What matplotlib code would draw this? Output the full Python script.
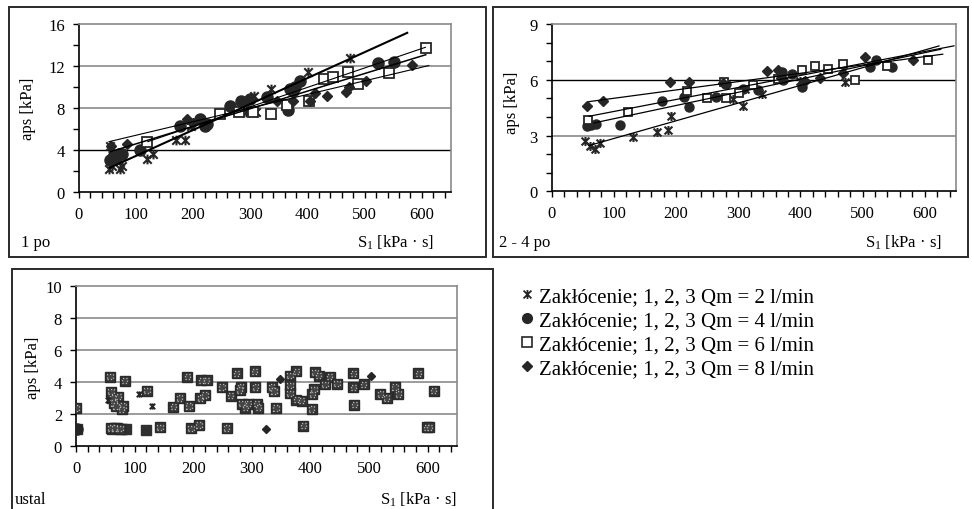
import matplotlib
matplotlib.use("Agg")
import matplotlib.pyplot as plt
import numpy as np
from matplotlib.path import Path
from matplotlib.patches import Rectangle
from matplotlib.lines import Line2D

plt.rcParams['font.family'] = ['Liberation Serif', 'DejaVu Serif']
plt.rcParams['mathtext.fontset'] = 'custom'
plt.rcParams['mathtext.rm'] = 'Liberation Serif'
plt.rcParams['mathtext.it'] = 'Liberation Serif:italic'

# ---------------- data ----------------
series_labels = ["Zakłócenie; 1, 2, 3 Qm = 2 l/min",
                 "Zakłócenie; 1, 2, 3 Qm = 4 l/min",
                 "Zakłócenie; 1, 2, 3 Qm = 6 l/min",
                 "Zakłócenie; 1, 2, 3 Qm = 8 l/min"]
panel_titles = ["1 po", "2 - 4 po", "ustal"]
x_label = r"S$_1$ [kPa · s]"
y_label = "aps [kPa]"

# panel 1: "1 po"
p1_star_x = [53, 58, 72, 75, 55, 120, 130, 170, 186, 196, 292, 300, 310, 307, 337, 400, 475]
p1_star_y = [2.2, 2.5, 2.2, 2.5, 4.4, 3.2, 3.6, 5.0, 5.0, 6.3, 7.6, 7.7, 7.6, 9.2, 9.8, 11.4, 12.8]
p1_circ_x = [55, 60, 65, 70, 75, 108, 177, 212, 221, 224, 265, 283, 300, 329, 366, 369, 375, 378, 387, 524, 551]
p1_circ_y = [3.1, 3.4, 3.3, 3.6, 3.6, 4.06, 6.3, 7.0, 6.35, 6.5, 8.2, 8.7, 8.9, 9.1, 7.8, 9.8, 9.6, 10.0, 10.6, 12.3, 12.4]
p1_sq_x = [120, 247, 281, 305, 336, 365, 403, 428, 445, 470, 489, 543, 608]
p1_sq_y = [4.8, 7.45, 7.6, 7.6, 7.45, 8.3, 8.7, 10.8, 11.0, 11.4, 10.3, 11.3, 13.7]
p1_dia_x = [57, 84, 189, 200, 346, 375, 404, 413, 434, 468, 473, 503, 582]
p1_dia_y = [4.4, 4.6, 7.0, 6.6, 8.7, 8.7, 8.7, 9.45, 9.2, 9.5, 10.0, 10.6, 12.06]
# trend lines (start x, end x, start y, end y) per series: Qm = 2, 4, 6, 8
p1_trend_x0 = [53, 52, 120, 52]
p1_trend_x1 = [576, 608, 607, 613]
p1_trend_y0 = [2.3, 3.8, 4.8, 4.8]
p1_trend_y1 = [15.2, 13.1, 13.8, 12.06]

# panel 2: "2 - 4 po"
p2_star_x = [54, 62, 70, 77, 131, 169, 187, 192, 292, 308, 311, 338, 399, 472]
p2_star_y = [2.72, 2.45, 2.3, 2.6, 2.9, 3.17, 3.31, 4.03, 4.97, 4.57, 5.5, 5.23, 5.95, 5.86]
p2_circ_x = [56, 64, 72, 110, 177, 213, 221, 265, 281, 308, 332, 370, 372, 386, 402, 512, 522, 547]
p2_circ_y = [3.5, 3.55, 3.62, 3.58, 4.87, 5.05, 4.52, 5.05, 5.77, 5.5, 5.47, 6.4, 6.0, 6.3, 5.6, 6.67, 7.08, 6.67]
p2_sq_x = [59, 123, 218, 249, 277, 281, 301, 324, 364, 402, 423, 445, 469, 488, 540, 605]
p2_sq_y = [3.85, 4.25, 5.41, 5.0, 5.9, 5.0, 5.3, 5.7, 6.04, 6.54, 6.76, 6.58, 6.85, 6.0, 6.76, 7.08]
p2_dia_x = [57, 82, 191, 221, 275, 346, 364, 369, 407, 431, 468, 504, 581]
p2_dia_y = [4.57, 4.87, 5.9, 5.9, 5.8, 6.45, 6.5, 6.1, 5.95, 6.1, 6.35, 7.2, 7.08]
p2_trend_x0 = [59, 67, 59, 59]
p2_trend_x1 = [624, 627, 648, 630]
p2_trend_y0 = [2.45, 3.67, 4.03, 4.82]
p2_trend_y1 = [7.83, 7.65, 7.83, 7.38]

# panel 3: "ustal"
p3_star_x = [55, 107, 130]
p3_star_y = [2.9, 3.26, 2.49]
p3_circ_x = [1, 62, 70, 78, 85, 119]
p3_circ_y = [1.08, 1.1, 1.12, 1.08, 1.08, 1.0]
p3_sq_x = [0, 58, 60, 62, 65, 68, 72, 59, 66, 75, 83, 80, 78, 121, 143, 166, 177, 190, 193,
           196, 210, 212, 214, 223, 220, 249, 257, 264, 274, 281, 279, 283, 289, 294, 305, 306,
           308, 311, 334, 338, 341, 365, 365, 365, 376, 376, 385, 388, 403, 406, 402, 408, 414,
           425, 433, 445, 473, 473, 475, 491, 519, 530, 544, 550, 584, 598, 603, 610]
p3_sq_y = [2.38, 4.33, 3.4, 3.0, 2.7, 2.5, 3.1, 1.14, 1.15, 1.1, 4.08, 2.5, 2.3, 3.46, 1.18, 2.47, 3.0, 4.33, 2.5,
           1.12, 1.33, 3.0, 4.1, 4.1, 3.2, 3.7, 1.14, 3.15, 4.55, 3.7, 3.5, 2.65, 2.4, 2.65, 4.67, 3.7,
           2.65, 2.4, 3.7, 3.45, 2.38, 4.4, 3.8, 3.3, 4.67, 2.9, 2.85, 1.28, 3.25, 3.55, 2.32, 4.6, 4.4,
           3.85, 4.33, 3.9, 3.67, 4.55, 2.6, 3.85, 3.25, 3.0, 3.7, 3.25, 4.55, 1.18, 1.18, 3.46]
p3_dia_x = [324, 348, 504]
p3_dia_y = [1.06, 4.2, 4.4]

# ---------------- styling ----------------
W, H = 972, 510
fig = plt.figure(figsize=(W / 100, H / 100), dpi=100)
fig.patch.set_facecolor('white')

MK = '#262626'
star_path = Path([(-1, -1), (1, 1), (-1, 1), (1, -1), (0, -1.15), (0, 1.15)],
                 [Path.MOVETO, Path.LINETO, Path.MOVETO, Path.LINETO, Path.MOVETO, Path.LINETO])


def fx(px):
    return px / W


def fy(py):
    return 1 - py / H


def box(x0, y0, x1, y1):
    fig.add_artist(Rectangle((fx(x0), fy(y1)), fx(x1) - fx(x0), fy(y0) - fy(y1),
                             transform=fig.transFigure, fill=False, edgecolor='#2a2a2a',
                             linewidth=1.4, clip_on=False))


def make_axes(x0, y0, x1, y1, ymax, ymajor, yminor, black_line=None):
    ax = fig.add_axes([fx(x0), fy(y1), fx(x1) - fx(x0), fy(y0) - fy(y1)])
    ax.set_xlim(0, 650)
    ax.set_ylim(0, ymax)
    ax.set_xticks(np.arange(0, 601, 100))
    ax.set_xticks(np.arange(0, 651, 20), minor=True)
    ax.set_yticks(np.arange(0, ymax + 0.01, ymajor))
    if yminor:
        ax.set_yticks(np.arange(0, ymax + 0.01, yminor), minor=True)
    ax.tick_params(axis='both', which='both', direction='out', length=4, width=1.0,
                   color='black', labelsize=12, pad=6)
    for s in ['left', 'bottom']:
        ax.spines[s].set_color('black')
        ax.spines[s].set_linewidth(1.2)
    for s in ['top', 'right']:
        ax.spines[s].set_color('#8a8a8a')
        ax.spines[s].set_linewidth(1.2)
    for v in np.arange(ymajor, ymax, ymajor):
        col = 'black' if (black_line is not None and abs(v - black_line) < 1e-6) else '#8a8a8a'
        lw = 1.0 if col == 'black' else 1.2
        ax.axhline(v, color=col, linewidth=lw, zorder=0.5)
    return ax


def draw_series(ax, sx, sy, cx, cy, qx, qy, dx, dy, s_star, s_circ, s_sq, s_dia):
    ax.plot(sx, sy, linestyle='none', marker=star_path, markersize=s_star, markerfacecolor='none',
            markeredgecolor=MK, markeredgewidth=1.5, zorder=3)
    ax.plot(cx, cy, linestyle='none', marker='o', markersize=s_circ, color=MK, zorder=3)
    ax.plot(qx, qy, linestyle='none', marker='s', markersize=s_sq, markerfacecolor='white',
            markeredgecolor=MK, markeredgewidth=1.3, zorder=3)
    ax.plot(dx, dy, linestyle='none', marker='D', markersize=s_dia, color=MK, zorder=3)


def draw_trends(ax, x0, x1, y0, y1, widths):
    for a, b, c, d, w in zip(x0, x1, y0, y1, widths):
        ax.plot([a, b], [c, d], color='black', linewidth=w, zorder=4, solid_capstyle='butt')


# panel boxes
box(9, 8, 486, 258)
box(493, 8, 968, 258)
box(12, 270, 493, 520)

# ---- panel 1 ----
ax1 = make_axes(78.7, 25, 450.5, 193.3, 16, 4, 2, black_line=4)
draw_series(ax1, p1_star_x, p1_star_y, p1_circ_x, p1_circ_y, p1_sq_x, p1_sq_y,
            p1_dia_x, p1_dia_y, 7.0, 8.0, 6.5, 5.0)
draw_trends(ax1, p1_trend_x0, p1_trend_x1, p1_trend_y0, p1_trend_y1, (1.5, 1.1, 0.8, 0.8))

# ---- panel 2 ----
ax2 = make_axes(551.7, 25, 955.8, 192.3, 9, 3, 1, black_line=6)
draw_series(ax2, p2_star_x, p2_star_y, p2_circ_x, p2_circ_y, p2_sq_x, p2_sq_y,
            p2_dia_x, p2_dia_y, 6.5, 6.5, 5.5, 4.6)
draw_trends(ax2, p2_trend_x0, p2_trend_x1, p2_trend_y0, p2_trend_y1, (0.9, 0.9, 0.9, 0.9))

# ---- panel 3 ----
ax3 = make_axes(76, 286.7, 457, 447.3, 10, 2, None)
ax3.plot(p3_circ_x, p3_circ_y, linestyle='none', marker='s', markersize=7.5, color='#303030', zorder=3)
ax3.plot(p3_circ_x[:1], p3_circ_y[:1], linestyle='none', marker='o', markersize=8, color=MK, zorder=3.5)
ax3.plot(p3_sq_x, p3_sq_y, linestyle='none', marker='s', markersize=7.5, markerfacecolor='#353535',
         markeredgecolor='#2a2a2a', markeredgewidth=1.0, zorder=3)
ax3.scatter(p3_sq_x, p3_sq_y, marker='s', s=15, facecolors='#444444', edgecolors='#b8b8b8',
            linewidths=0.9, linestyles=':', zorder=3.2)
ax3.plot(p3_star_x, p3_star_y, linestyle='none', marker=star_path, markersize=4.5,
         markerfacecolor='none', markeredgecolor=MK, markeredgewidth=1.4, zorder=3.4)
ax3.plot(p3_dia_x, p3_dia_y, linestyle='none', marker='D', markersize=4.5, color=MK, zorder=3.4)

# ---- texts ----
fig.text(fx(21), fy(243), panel_titles[0], fontsize=12, va='center', ha='left')
fig.text(fx(434), fy(243), x_label, fontsize=12, va='center', ha='right')
fig.text(fx(28), fy(109), y_label, fontsize=12, va='center', ha='center', rotation=90)

fig.text(fx(499), fy(243), panel_titles[1], fontsize=12, va='center', ha='left')
fig.text(fx(942), fy(243), x_label, fontsize=12, va='center', ha='right')
fig.text(fx(512), fy(103), y_label, fontsize=12, va='center', ha='center', rotation=90)

fig.text(fx(15), fy(500), panel_titles[2], fontsize=12, va='center', ha='left')
fig.text(fx(457), fy(500), x_label, fontsize=12, va='center', ha='right')
fig.text(fx(33), fy(368), y_label, fontsize=12, va='center', ha='center', rotation=90)

# ---- legend ----
handles = [
    Line2D([], [], linestyle='none', marker=star_path, markersize=6.5, markerfacecolor='none',
           markeredgecolor=MK, markeredgewidth=1.3),
    Line2D([], [], linestyle='none', marker='o', markersize=7, color=MK),
    Line2D([], [], linestyle='none', marker='s', markersize=6.5, markerfacecolor='white',
           markeredgecolor=MK, markeredgewidth=1.2),
    Line2D([], [], linestyle='none', marker='D', markersize=5, color=MK),
]
fig.legend(handles, series_labels, loc='upper left', bbox_to_anchor=(fx(521), fy(288)),
           frameon=False, fontsize=15, handlelength=0.6, handletextpad=0.28,
           labelspacing=0.2, borderpad=0, borderaxespad=0)

fig.savefig('out.png', dpi=100, facecolor='white')
